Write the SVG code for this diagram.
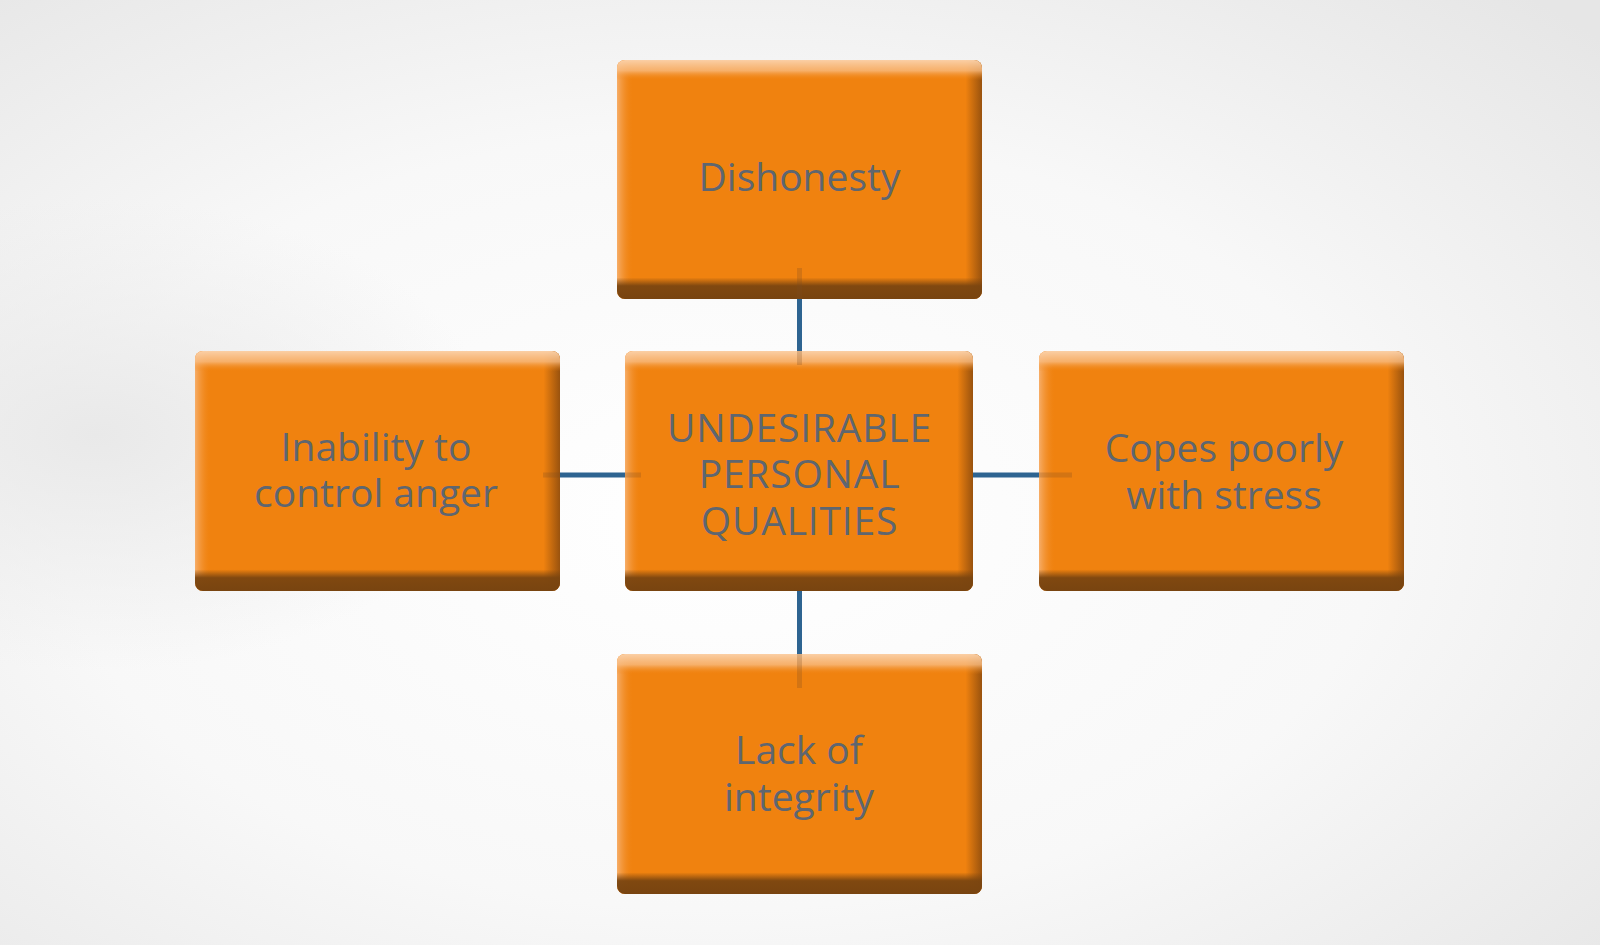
<svg xmlns="http://www.w3.org/2000/svg" width="1600" height="945" viewBox="0 0 1600 945">
<defs>
<radialGradient id="bg1" cx="0.45" cy="0.55" r="0.75">
<stop offset="0" stop-color="#ffffff"/>
<stop offset="0.55" stop-color="#f8f8f8"/>
<stop offset="1" stop-color="#e6e6e6"/>
</radialGradient>
<radialGradient id="bgL" cx="0.06" cy="0.46" r="0.25">
<stop offset="0" stop-color="#e9e9e9" stop-opacity="1"/>
<stop offset="1" stop-color="#e9e9e9" stop-opacity="0"/>
</radialGradient>
<linearGradient id="gTop" x1="0" y1="0" x2="0" y2="1">
<stop offset="0" stop-color="#fbd3ad" stop-opacity="0.95"/>
<stop offset="0.045" stop-color="#f8bb80" stop-opacity="0.8"/>
<stop offset="0.085" stop-color="#f0820f" stop-opacity="0"/>
</linearGradient>
<linearGradient id="gBot" x1="0" y1="0" x2="0" y2="1">
<stop offset="0.91" stop-color="#7a4510" stop-opacity="0"/>
<stop offset="0.945" stop-color="#7a4510" stop-opacity="0.95"/>
<stop offset="1" stop-color="#784410" stop-opacity="1"/>
</linearGradient>
<linearGradient id="gLeft" x1="0" y1="0" x2="1" y2="0">
<stop offset="0" stop-color="#f8b578" stop-opacity="0.85"/>
<stop offset="0.045" stop-color="#f0820f" stop-opacity="0"/>
</linearGradient>
<linearGradient id="gRight" x1="0" y1="0" x2="1" y2="0">
<stop offset="0.955" stop-color="#8a4a0e" stop-opacity="0"/>
<stop offset="1" stop-color="#8a4a0e" stop-opacity="0.85"/>
</linearGradient>
<style>
.base{fill:#f0820f}
.t{fill:url(#gTop)}
.b{fill:url(#gBot)}
.l{fill:url(#gLeft)}
.r{fill:url(#gRight)}
.lbl{font-family:"Open Sans","Liberation Sans",sans-serif;font-size:39px;fill:#5e6670;text-anchor:middle}
.caps{font-size:39px;letter-spacing:0.8px}
.con{stroke:#2e6491;stroke-width:5;fill:none}
.fade{stroke:#7a4a20;stroke-width:5;stroke-opacity:0.25;fill:none}
</style>
</defs>
<rect width="1600" height="945" fill="url(#bg1)"/>
<rect width="1600" height="945" fill="url(#bgL)"/>

<g id="node-top">
<rect class="base" x="617" y="60" width="365" height="239" rx="8"/>
<rect class="l" x="617" y="60" width="365" height="239" rx="8"/>
<rect class="r" x="617" y="60" width="365" height="239" rx="8"/>
<rect class="t" x="617" y="60" width="365" height="239" rx="8"/>
<rect class="b" x="617" y="60" width="365" height="239" rx="8"/>
<text class="lbl" x="799.5" y="191">Dishonesty</text>
</g>

<g id="node-center">
<rect class="base" x="625" y="351" width="348" height="240" rx="8"/>
<rect class="l" x="625" y="351" width="348" height="240" rx="8"/>
<rect class="r" x="625" y="351" width="348" height="240" rx="8"/>
<rect class="t" x="625" y="351" width="348" height="240" rx="8"/>
<rect class="b" x="625" y="351" width="348" height="240" rx="8"/>
<text class="lbl caps" x="799.5" y="442">UNDESIRABLE</text>
<text class="lbl caps" x="799.5" y="488">PERSONAL</text>
<text class="lbl caps" x="799.5" y="535">QUALITIES</text>
</g>

<g id="node-left">
<rect class="base" x="195" y="351" width="365" height="240" rx="8"/>
<rect class="l" x="195" y="351" width="365" height="240" rx="8"/>
<rect class="r" x="195" y="351" width="365" height="240" rx="8"/>
<rect class="t" x="195" y="351" width="365" height="240" rx="8"/>
<rect class="b" x="195" y="351" width="365" height="240" rx="8"/>
<text class="lbl" x="376" y="461">Inability to</text>
<text class="lbl" x="376" y="507">control anger</text>
</g>

<g id="node-right">
<rect class="base" x="1039" y="351" width="365" height="240" rx="8"/>
<rect class="l" x="1039" y="351" width="365" height="240" rx="8"/>
<rect class="r" x="1039" y="351" width="365" height="240" rx="8"/>
<rect class="t" x="1039" y="351" width="365" height="240" rx="8"/>
<rect class="b" x="1039" y="351" width="365" height="240" rx="8"/>
<text class="lbl" x="1224" y="462">Copes poorly</text>
<text class="lbl" x="1224" y="509">with stress</text>
</g>

<g id="node-bottom">
<rect class="base" x="617" y="654" width="365" height="240" rx="8"/>
<rect class="l" x="617" y="654" width="365" height="240" rx="8"/>
<rect class="r" x="617" y="654" width="365" height="240" rx="8"/>
<rect class="t" x="617" y="654" width="365" height="240" rx="8"/>
<rect class="b" x="617" y="654" width="365" height="240" rx="8"/>
<text class="lbl" x="799" y="764">Lack of</text>
<text class="lbl" x="799" y="811">integrity</text>
</g>

<g id="connectors">
<line class="con" x1="799.5" y1="299" x2="799.5" y2="351"/>
<line class="fade" x1="799.5" y1="268" x2="799.5" y2="299"/>
<line class="fade" x1="799.5" y1="351" x2="799.5" y2="365"/>
<line class="con" x1="560" y1="475" x2="625" y2="475"/>
<line class="fade" x1="543" y1="475" x2="560" y2="475"/>
<line class="fade" x1="625" y1="475" x2="641" y2="475"/>
<line class="con" x1="973" y1="475" x2="1039" y2="475"/>
<line class="fade" x1="1039" y1="475" x2="1072" y2="475"/>
<line class="con" x1="799.5" y1="591" x2="799.5" y2="654"/>
<line class="fade" x1="799.5" y1="654" x2="799.5" y2="688"/>
</g>
</svg>
